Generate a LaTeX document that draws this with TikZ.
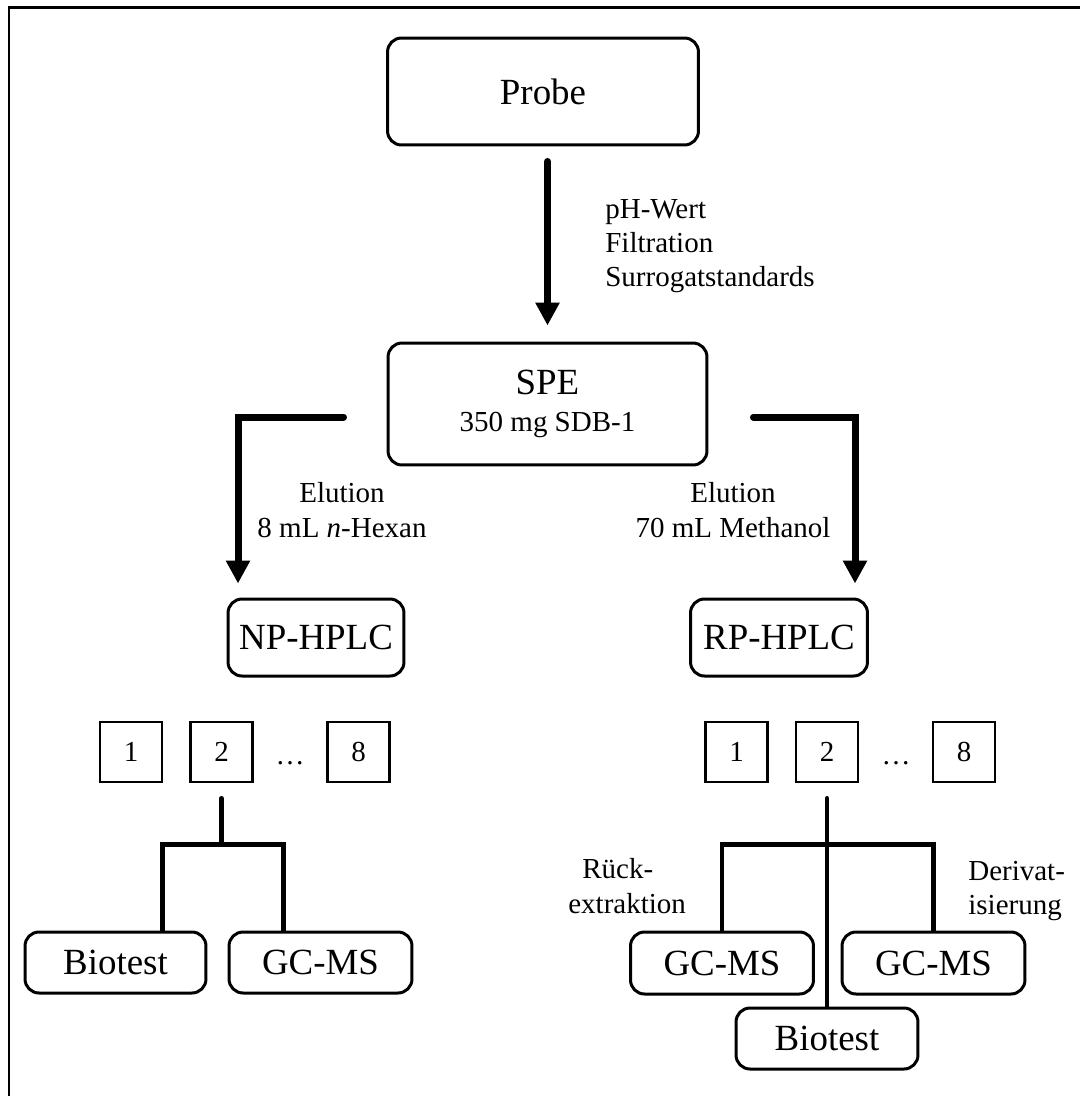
\documentclass[tikz,border=0pt]{standalone}
\usepackage{fontspec}
\setmainfont{Liberation Serif}
\usetikzlibrary{arrows.meta,calc}
\newcommand{\boxfont}{\fontsize{21}{21.5}\selectfont}
\newcommand{\lblfont}{\fontsize{16.5}{19.5}\selectfont}

\begin{document}
\begin{tikzpicture}[x=0.02cm, y=-0.02cm,
    rbox/.style={draw, line width=0.06cm, rounded corners=0.28cm, font=\boxfont, align=center},
    numbox/.style={draw, line width=0.05cm, minimum width=1.24cm, minimum height=1.2cm, font=\lblfont},
    lbl/.style={font=\lblfont, inner sep=0pt, align=center},
    arr/.style={line width=0.14cm, line cap=round, -{Triangle[width=0.46cm, length=0.46cm]}},
    tree/.style={line width=0.09cm, line cap=round}]
    \useasboundingbox (0,0) rectangle (1080,1096);
    \draw[line width=0.06cm] (9,1096) -- (9,7) -- (1080,7);

    \node[rbox, minimum width=6.22cm, minimum height=2.14cm] (probe) at (543,91.5) {Probe};
    \node[rbox, minimum width=6.38cm, minimum height=2.44cm] (spe) at (547.5,404) {SPE\\{\lblfont 350 mg SDB-1}};
    \node[rbox, minimum width=3.52cm, minimum height=1.54cm] (nphplc) at (316,637.5) {NP-HPLC};
    \node[rbox, minimum width=3.54cm, minimum height=1.54cm] (rphplc) at (779,637.5) {RP-HPLC};

    \foreach \n/\x in {1/131, 2/221.5, 8/358.5}
        \node[numbox] (nL\n) at (\x,752) {\n};
    \foreach \n/\x in {1/736.5, 2/827, 8/964}
        \node[numbox] (nR\n) at (\x,752) {\n};
    \node[lbl] (dotsL) at (290,763.5) {\dots};
    \node[lbl] (dotsR) at (896,763.5) {\dots};

    \node[rbox, minimum width=3.62cm, minimum height=1.22cm] (bioL) at (115.5,962.5) {Biotest};
    \node[rbox, minimum width=3.66cm, minimum height=1.22cm] (gcL) at (320.5,962.5) {GC-MS};
    \node[rbox, minimum width=3.66cm, minimum height=1.24cm] (gcR1) at (722,963) {GC-MS};
    \node[rbox, minimum width=3.66cm, minimum height=1.24cm] (gcR2) at (933.5,963) {GC-MS};
    \node[rbox, minimum width=3.64cm, minimum height=1.22cm] (bioR) at (827,1038.5) {Biotest};

    \node[lbl, anchor=west, align=left] (pre) at (605,246) {pH-Wert\\Filtration\\Surrogatstandards};
    \node[lbl] (eluL) at (342,510) {Elution\\8 mL \textit{n}-Hexan};
    \node[lbl] (eluR) at (733,510) {Elution\\70 mL Methanol};
    \node[lbl, anchor=west, align=left] (rueck) at (568,886) {\hspace*{0.28cm}Rück-\\extraktion};
    \node[lbl, anchor=west, align=left] (deriv) at (968,891) {Derivat-\\isierung};

    \draw[arr] ($(probe.south -| spe.north)+(0,15)$) -- ($(spe.north)+(0,-16)$);
    \draw[arr] ($(spe.west)+(-43,13)$) -| ($(nphplc.north)+(-78,-14)$);
    \draw[arr] ($(spe.east)+(45,13)$) -| ($(rphplc.north)+(76,-14)$);

    \coordinate (lj) at ($(nL2.south)+(0,61)$);
    \draw[tree] ($(nL2.south)+(0,15)$) -- (lj);
    \draw[tree] ($(bioL.north)+(47,0)$) |- (lj) -| ($(gcL.north)+(-37,0)$);
    \coordinate (rj) at ($(nR2.south)+(0,61)$);
    \draw[tree] ($(nR2.south)+(0,15)$) -- (bioR.north);
    \draw[tree] (gcR1.north) |- (rj) -| (gcR2.north);
\end{tikzpicture}
\end{document}
